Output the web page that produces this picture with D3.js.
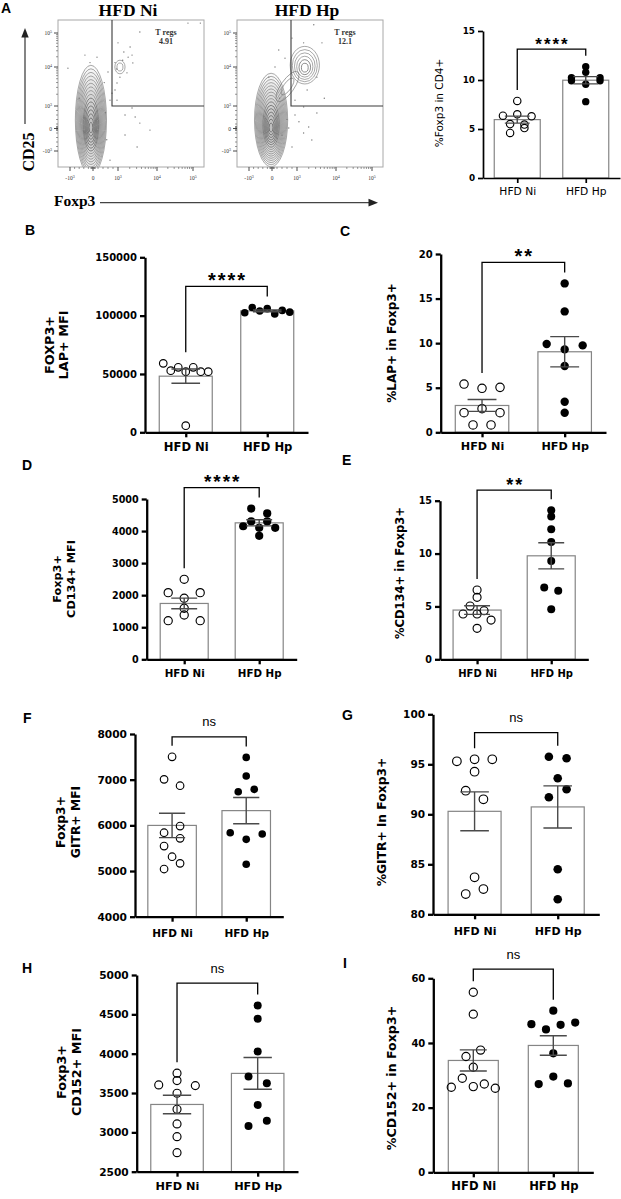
<!DOCTYPE html>
<html><head><meta charset="utf-8">
<script src="https://cdn.jsdelivr.net/npm/d3@7"></script>
<style>body{margin:0;background:#fff}svg{display:block}</style>
</head><body>
<svg id="fig" width="621" height="1199"></svg>
<script>
// ---------------- DATA ----------------
const categories = ["HFD Ni", "HFD Hp"];
const sigLabels = ["****", "****", "**", "****", "**", "ns", "ns", "ns", "ns"];

// Panel A (bar): %Foxp3 in CD4+
const pctFoxp3Ni = [7.86, 6.36, 6.5, 6.3, 5.5, 5.45, 4.6, 5.1];
const pctFoxp3Hp = [11.36, 10.24, 10.78, 10.24, 9.93, 9.56, 9.93, 7.79];
const ticksA = [0, 5, 10, 15];
// Panel B: FOXP3+ LAP+ MFI
const lapMfiNi = [59100, 52800, 55700, 51950, 55700, 51950, 51950, 5700];
const lapMfiHp = [102500, 107000, 104000, 106000, 101500, 104500, 103000];
const ticksB = [0, 50000, 100000, 150000];
// Panel C: %LAP+ in Foxp3+
const lapPctNi = [5.41, 4.93, 5.04, 2.2, 2.65, 2.2, 0.82, 0.82];
const lapPctHp = [9.9, 9.3, 9.75, 16.7, 13.56, 7.43, 3.43, 2.2];
const ticksC = [0, 5, 10, 15, 20];
// Panel D: Foxp3+ CD134+ MFI
const cd134MfiNi = [2495, 2078, 1903, 2078, 1591, 1204, 1382, 1204];
const cd134MfiHp = [4700, 4550, 4300, 4300, 4150, 4100, 4100, 3850];
const ticksD = [0, 1000, 2000, 3000, 4000, 5000];
// Panel E: %CD134+ in Foxp3+
const cd134PctNi = [5.86, 6.55, 5.04, 4.28, 4.28, 4.6, 3.71, 2.93];
const cd134PctHp = [14.1, 13.5, 12.3, 11.1, 9.29, 6.8, 6.48, 4.73];
const ticksE = [0, 5, 10, 15];
// Panel F: Foxp3+ GITR+ MFI
const gitrMfiNi = [7501, 7007, 6867, 5838, 5985, 5547, 5716, 5313, 5044, 5168];
const gitrMfiHp = [7488, 7079, 6735, 6788, 5838, 5694, 5810, 5147];
const ticksF = [4000, 5000, 6000, 7000, 8000];
// Panel G: %GITR+ in Foxp3+
const gitrPctNi = [95.3, 95.5, 95.5, 94.26, 92.36, 91.5, 83.7, 82.03, 82.53];
const gitrPctHp = [95.76, 95.6, 93.6, 91.7, 92.5, 84.5, 81.5];
const ticksG = [80, 85, 90, 95, 100];
// Panel H: Foxp3+ CD152+ MFI
const cd152MfiNi = [3752, 3603, 3658, 3594, 3497, 3294, 3107, 2945, 2742];
const cd152MfiHp = [4612, 4443, 4027, 3709, 3625, 3349, 3081, 3149];
const ticksH = [2500, 3000, 3500, 4000, 4500, 5000];
// Panel I: %CD152+ in Foxp3+
const cd152PctNi = [55.7, 48.9, 35.8, 37.8, 32.5, 26.3, 29.1, 26.5, 27.3, 26.0];
const cd152PctHp = [50, 45.8, 44.2, 45.6, 46.3, 36.8, 27.3, 29.6, 27.5];
const ticksI = [0, 20, 40, 60];

// Flow cytometry (panel A left), axis in display units (-1=-10^3, 0, 1=10^3, 2=10^4, 3=10^5)
const flowTitles = ["HFD Ni", "HFD Hp"];
const tregPct = ["4.91", "12.1"];
const flowTickVals = [-1, 0, 1, 2, 3];
const flowTickBase = ["-10", "0", "10", "10", "10"];
const flowTickExp = ["3", "", "3", "4", "5"];
const gateFoxp3 = 0.76, gateCD25 = 1.0;
const flowPopNi = [[-0.09, 0.02], [1.05, 2.0]];
const flowPopHp = [[-0.04, 0.02], [1.2, 1.97], [0.62, 1.5]];
const flowDotsNi = [[1.0,2.71],[1.15,2.44],[1.31,2.59],[1.26,2.29],[0.88,2.13],[1.36,2.35],[1.38,2.12],[1.23,1.85],[1.05,1.74],[0.96,1.59],[0.88,1.41],[0.76,1.33],[0.68,1.15],[0.96,1.15],[0.6,1.87],[-0.13,2.13],[0.16,2.29],[-0.35,2.35],[-1.09,1.97],[1.36,0.91],[1.44,0.51],[1.18,0.6],[1.56,0.24],[1.49,-0.82],[2.86,3.29],[3.2,3.29],[1.56,3.03],[1.18,-0.29],[0.68,-1.4],[1.82,-0.07],[0.5,0.7],[0.55,-0.5],[0.45,1.6],[-0.6,1.2],[1.12,2.2],[0.95,1.95]];
const flowDotsHp = [[1.17,2.71],[0.8,2.85],[1.43,3.24],[0.27,2.5],[0.52,2.26],[0.12,2.0],[-0.14,1.74],[0.92,1.15],[1.17,0.96],[0.92,0.6],[1.3,0.07],[1.17,-0.2],[1.38,-0.51],[0.67,0.02],[0.8,-0.82],[1.51,0.69],[1.26,1.41],[1.51,1.74],[1.64,2.71],[0.6,0.4],[1.05,0.3],[0.4,-0.3],[1.7,1.2],[0.3,1.2]];

// ---------------- LAYOUT ----------------
const SANS = "'DejaVu Sans', Verdana, sans-serif";
const ARIAL = "'Liberation Sans', Arial, sans-serif";
const SERIF = "'Liberation Serif', 'Times New Roman', serif";
const svg = d3.select("#fig");
svg.append("rect").attr("width", 621).attr("height", 1199).attr("fill", "#fff");

// ---- Flow plots ----
const flowXDom = [-1.52, -1, 0, 1, 2, 3, 3.3], flowXRng = [0, 12, 35, 60, 99, 135, 146];
const flowYDom = [-1.7, -1, 0, 1, 2, 3, 3.38], flowYRng = [167, 151, 128.5, 106, 67, 33, 20];
const flowMinor = [].concat(
  d3.range(2, 10).map(k => 1 + Math.log10(k)),
  d3.range(2, 10).map(k => 2 + Math.log10(k)),
  [-0.8, -0.6, -0.4, -0.2, 0.2, 0.4, 0.6, 0.8, -0.09, -0.06, -0.03, 0.03, 0.06, 0.09]);
const shapesNi = [{rx: 15, ry: 54, n: 16, up: 8}, {rx: 4.5, ry: 6, n: 2, up: 0}];
const shapesHp = [{rx: 16, ry: 46, n: 16, up: 8}, {rx: 14, ry: 18, n: 6, up: 3}, {rx: 6, ry: 17, n: 2, up: 0, rot: 35}];

function drawFlow(idx, left, pops, shapes, dots) {
  const g = svg.append("g").attr("transform", `translate(${left},0)`);
  const x = d3.scaleLinear().domain(flowXDom).range(flowXRng);
  const y = d3.scaleLinear().domain(flowYDom).range(flowYRng);
  const cid = "fclip" + idx;
  g.append("clipPath").attr("id", cid).append("rect").attr("x", 0).attr("y", 20).attr("width", 146).attr("height", 147);
  const inner = g.append("g").attr("clip-path", `url(#${cid})`);
  inner.selectAll("circle").data(dots).join("circle")
    .attr("cx", d => x(d[0])).attr("cy", d => y(d[1])).attr("r", 0.7).attr("fill", "#777");
  pops.forEach((p, k) => {
    const s = shapes[k], cx = x(p[0]), cy = y(p[1]);
    for (let j = 0; j < s.n; j++) {
      const t = j / s.n, f = Math.pow(1 - t, 0.9);
      const ey = cy - s.up * (1 - t);
      inner.append("ellipse").attr("cx", cx).attr("cy", ey)
        .attr("rx", s.rx * f + 0.6).attr("ry", s.ry * f + 0.8)
        .attr("transform", s.rot ? `rotate(${s.rot},${cx},${ey})` : null)
        .attr("fill", s.n > 10 ? "#808080" : "none").attr("fill-opacity", 0.045)
        .attr("stroke", t > 0.5 ? "#505050" : "#7a7a7a").attr("stroke-width", 0.65);
    }
  });
  g.append("rect").attr("x", 0).attr("y", 20).attr("width", 146).attr("height", 147)
    .attr("fill", "none").attr("stroke", "#a8a8a8").attr("stroke-width", 1);
  g.append("path").attr("d", `M${x(gateFoxp3)},20V${y(gateCD25)}H146`)
    .attr("fill", "none").attr("stroke", "#3a3a3a").attr("stroke-width", 1.1);
  // ticks
  flowMinor.forEach(v => {
    g.append("line").attr("x1", -2).attr("x2", 0).attr("y1", y(v)).attr("y2", y(v)).attr("stroke", "#555").attr("stroke-width", 0.6);
    g.append("line").attr("x1", x(v)).attr("x2", x(v)).attr("y1", 167).attr("y2", 169).attr("stroke", "#555").attr("stroke-width", 0.6);
  });
  flowTickVals.forEach((v, k) => {
    g.append("line").attr("x1", -4).attr("x2", 0).attr("y1", y(v)).attr("y2", y(v)).attr("stroke", "#333").attr("stroke-width", 0.9);
    g.append("line").attr("x1", x(v)).attr("x2", x(v)).attr("y1", 167).attr("y2", 171).attr("stroke", "#333").attr("stroke-width", 0.9);
    const ty = g.append("text").attr("x", -6).attr("y", y(v) + 2).attr("text-anchor", "end")
      .attr("font-family", SERIF).attr("font-size", 5.5).attr("fill", "#333");
    ty.append("tspan").text(flowTickBase[k]);
    if (flowTickExp[k]) ty.append("tspan").attr("dy", -2.5).attr("font-size", 4).text(flowTickExp[k]);
    const tx = g.append("text").attr("x", x(v)).attr("y", 180).attr("text-anchor", "middle")
      .attr("font-family", SERIF).attr("font-size", 5.5).attr("fill", "#333");
    tx.append("tspan").text(flowTickBase[k]);
    if (flowTickExp[k]) tx.append("tspan").attr("dy", -2.5).attr("font-size", 4).text(flowTickExp[k]);
  });
  g.append("text").attr("x", x(2.25)).attr("y", 35).attr("text-anchor", "middle")
    .attr("font-family", SERIF).attr("font-weight", "bold").attr("font-size", 8).attr("fill", "#333").text("T regs");
  g.append("text").attr("x", x(2.25)).attr("y", 44).attr("text-anchor", "middle")
    .attr("font-family", SERIF).attr("font-weight", "bold").attr("font-size", 8).attr("fill", "#333").text(tregPct[idx]);
  g.append("text").attr("x", 70).attr("y", 16).attr("text-anchor", "middle")
    .attr("font-family", SERIF).attr("font-weight", "bold").attr("font-size", 17.5).text(flowTitles[idx]);
}
drawFlow(0, 58, flowPopNi, shapesNi, flowDotsNi);
drawFlow(1, 237, flowPopHp, shapesHp, flowDotsHp);

// axis names & arrows for flow plots
svg.append("text").attr("x", 1).attr("y", 13).attr("font-family", ARIAL).attr("font-weight", "bold").attr("font-size", 14).text("A");
svg.append("line").attr("x1", 25).attr("x2", 25).attr("y1", 124).attr("y2", 36).attr("stroke", "#333").attr("stroke-width", 1.2);
svg.append("path").attr("d", "M25,28L21.3,37.5H28.7Z").attr("fill", "#222");
svg.append("text").attr("transform", "translate(34,152) rotate(-90)").attr("text-anchor", "middle")
  .attr("font-family", SERIF).attr("font-weight", "bold").attr("font-size", 16).text("CD25");
svg.append("text").attr("x", 54).attr("y", 206).attr("font-family", SERIF).attr("font-weight", "bold").attr("font-size", 15.5).text("Foxp3");
svg.append("line").attr("x1", 100).attr("x2", 370).attr("y1", 202.7).attr("y2", 202.7).attr("stroke", "#444").attr("stroke-width", 1.2);
svg.append("path").attr("d", "M378,202.7L368.5,198.8V206.6Z").attr("fill", "#222");

// ---- Bar + scatter panels ----
function swarm(values, y, rowH, maxS, maxW) {
  const idx = values.map((v, i) => i).sort((a, b) => values[a] - values[b] || a - b);
  const off = new Array(values.length).fill(0);
  let i = 0;
  while (i < idx.length) {
    const y0 = y(values[idx[i]]);
    let j = i + 1;
    while (j < idx.length && Math.abs(y0 - y(values[idx[j]])) < rowH) j++;
    const row = idx.slice(i, j).sort((a, b) => a - b);
    const n = row.length;
    const s = n > 1 ? Math.min(maxS, maxW / (n - 1)) : 0;
    row.forEach((k, r) => off[k] = (r - (n - 1) / 2) * s);
    i = j;
  }
  return off;
}

function barPanel(c) {
  const g = svg.append("g");
  const y = d3.scaleLinear().domain([c.ticks[0], c.ticks[c.ticks.length - 1]]).range([c.y0, c.y1]);
  const x = d3.scalePoint().domain(categories).range([c.ax, c.axEnd]).padding(0.5);
  const groups = [c.ni, c.hp];
  const stats = groups.map(v => ({m: d3.mean(v), se: d3.deviation(v) / Math.sqrt(v.length), max: d3.max(v)}));
  g.selectAll("rect").data(categories).join("rect")
    .attr("x", d => x(d) - c.bw / 2).attr("width", c.bw)
    .attr("y", (d, i) => y(stats[i].m)).attr("height", (d, i) => c.y0 - y(stats[i].m))
    .attr("fill", "#fff").attr("stroke", "#858585").attr("stroke-width", 1.2);
  groups.forEach((vals, i) => {
    const off = swarm(vals, y, c.rowH, c.maxS, c.maxW);
    g.append("g").selectAll("circle").data(vals).join("circle")
      .attr("cx", (d, j) => x(categories[i]) + off[j]).attr("cy", d => y(d)).attr("r", c.r)
      .attr("fill", i ? "#000" : "none").attr("stroke", "#000").attr("stroke-width", i ? 0 : 1.15);
  });
  stats.forEach((s, i) => {
    const cx = x(categories[i]), cw = c.bw * 0.27, yt = y(s.m + s.se), yb = y(s.m - s.se);
    g.append("path").attr("d", `M${cx},${yt}V${yb}M${cx - cw},${yt}H${cx + cw}M${cx - cw},${yb}H${cx + cw}`)
      .attr("fill", "none").attr("stroke", "#4a4a4a").attr("stroke-width", 1.4);
  });
  // axes
  const ya = g.append("g").attr("transform", `translate(${c.ax},0)`)
    .call(d3.axisLeft(y).tickValues(c.ticks).tickSize(5).tickSizeOuter(0).tickPadding(3).tickFormat(d3.format("d")));
  ya.attr("font-family", SANS).attr("font-size", c.tfs).attr("font-weight", "bold");
  ya.selectAll("path,line").attr("stroke", "#000").attr("stroke-width", c.aw);
  ya.selectAll("text").attr("fill", "#000");
  const xa = g.append("g").attr("transform", `translate(0,${c.y0})`)
    .call(d3.axisBottom(x).tickSize(5).tickSizeOuter(0));
  xa.attr("font-family", SANS).attr("font-size", c.cfs).attr("font-weight", c.cw);
  xa.selectAll("path,line").attr("stroke", "#000").attr("stroke-width", c.aw);
  xa.selectAll("text").attr("dy", null).attr("y", c.catDy).attr("fill", "#000");
  // y label
  c.ylabel.forEach((t, i) => {
    g.append("text").attr("transform", `translate(${c.ylx[i]},${c.yly}) rotate(-90)`)
      .attr("text-anchor", "middle").attr("dy", "0.36em")
      .attr("font-family", SANS).attr("font-weight", c.lw).attr("font-size", c.lfs).text(t);
  });
  // significance bracket
  const xl = x(categories[0]), xr = x(categories[1]);
  const yTop = Math.min(y(stats[0].max), y(stats[1].max)) - c.bGap;
  g.append("path").attr("d", `M${xl},${y(stats[0].max) - 11}V${yTop}H${xr}V${y(stats[1].max) - 11}`)
    .attr("fill", "none").attr("stroke", "#000").attr("stroke-width", 1.3);
  const ns = c.sig === "ns";
  g.append("text").attr("x", (xl + xr) / 2 + (ns ? 0 : 1)).attr("y", ns ? yTop - 10.5 : yTop + 0.5)
    .attr("text-anchor", "middle").attr("font-family", ARIAL)
    .attr("font-weight", ns ? "normal" : "bold").attr("font-size", ns ? 13 : c.sfs)
    .attr("letter-spacing", ns ? 0 : 2).text(c.sig);
  if (c.letter) g.append("text").attr("x", c.lx).attr("y", c.ly).attr("font-family", ARIAL)
    .attr("font-weight", "bold").attr("font-size", 14).text(c.letter);
}

const panels = [
  {letter: null, ni: pctFoxp3Ni, hp: pctFoxp3Hp, ticks: ticksA, ax: 483, axEnd: 620, y0: 178, y1: 31, bw: 46, r: 3.7,
   rowH: 6, maxS: 14.3, maxW: 39, ylabel: ["%Foxp3 in CD4+"], ylx: [439], yly: 103, lfs: 10.5, lw: "normal",
   tfs: 8.8, cfs: 10.7, cw: "normal", catDy: 17, sfs: 17, bGap: 17.5, aw: 1.7},
  {letter: "B", lx: 25, ly: 235, ni: lapMfiNi, hp: lapMfiHp, ticks: ticksB, ax: 145, axEnd: 308, y0: 432.3, y1: 257.3, bw: 53, r: 3.8,
   rowH: 10, maxS: 7.5, maxW: 45, ylabel: ["FOXP3+", "LAP+ MFI"], ylx: [49, 63], yly: 345, lfs: 12.8, lw: "bold",
   tfs: 10, cfs: 11.6, cw: "bold", catDy: 19, sfs: 20, bGap: 21, aw: 2.3},
  {letter: "C", lx: 340, ly: 236, ni: lapPctNi, hp: lapPctHp, ticks: ticksC, ax: 440.7, axEnd: 606, y0: 432.3, y1: 254, bw: 53.5, r: 4.2,
   rowH: 7, maxS: 18, maxW: 40, ylabel: ["%LAP+ in Foxp3+"], ylx: [392], yly: 343, lfs: 12, lw: "bold",
   tfs: 10, cfs: 11.2, cw: "bold", catDy: 17.5, sfs: 20, bGap: 21, aw: 2.3},
  {letter: "D", lx: 22, ly: 470, ni: cd134MfiNi, hp: cd134MfiHp, ticks: ticksD, ax: 146.7, axEnd: 296.7, y0: 659.3, y1: 499, bw: 48, r: 4.1,
   rowH: 6, maxS: 16, maxW: 40, ylabel: ["Foxp3+", "CD134+ MFI"], ylx: [57, 71], yly: 579, lfs: 11.3, lw: "bold",
   tfs: 9.6, cfs: 10.3, cw: "bold", catDy: 18, sfs: 19, bGap: 21, aw: 2.3},
  {letter: "E", lx: 342, ly: 465, ni: cd134PctNi, hp: cd134PctHp, ticks: ticksE, ax: 440, axEnd: 588.3, y0: 659.3, y1: 500.7, bw: 48, r: 4,
   rowH: 6.2, maxS: 14, maxW: 42, ylabel: ["%CD134+ in Foxp3+"], ylx: [400], yly: 573, lfs: 11.5, lw: "bold",
   tfs: 9.6, cfs: 10, cw: "bold", catDy: 18, sfs: 18, bGap: 20, aw: 2.3},
  {letter: "F", lx: 23, ly: 723, ni: gitrMfiNi, hp: gitrMfiHp, ticks: ticksF, ax: 135, axEnd: 283.3, y0: 916.7, y1: 734, bw: 48.5, r: 3.8,
   rowH: 8, maxS: 16, maxW: 40, ylabel: ["Foxp3+", "GITR+ MFI"], ylx: [61, 76], yly: 822, lfs: 12.3, lw: "bold",
   tfs: 10.6, cfs: 10.5, cw: "bold", catDy: 20, sfs: 18, bGap: 20, aw: 2.3},
  {letter: "G", lx: 342, ly: 720, ni: gitrPctNi, hp: gitrPctHp, ticks: ticksG, ax: 433, axEnd: 599.3, y0: 914.3, y1: 714.3, bw: 53, r: 4.3,
   rowH: 9, maxS: 17.7, maxW: 40, ylabel: ["%GITR+ in Foxp3+"], ylx: [381.7], yly: 822, lfs: 12.3, lw: "bold",
   tfs: 10.5, cfs: 11, cw: "bold", catDy: 21, sfs: 18, bGap: 24, aw: 2.3},
  {letter: "H", lx: 22, ly: 973, ni: cd152MfiNi, hp: cd152MfiHp, ticks: ticksH, ax: 136.7, axEnd: 298, y0: 1171.7, y1: 975, bw: 52.5, r: 4,
   rowH: 7, maxS: 18.3, maxW: 40, ylabel: ["Foxp3+", "CD152+ MFI"], ylx: [61, 76], yly: 1072, lfs: 12.8, lw: "bold",
   tfs: 10.6, cfs: 11.3, cw: "bold", catDy: 18.5, sfs: 18, bGap: 22.4, aw: 2.3},
  {letter: "I", lx: 343, ly: 968, ni: cd152PctNi, hp: cd152PctHp, ticks: ticksI, ax: 433.3, axEnd: 593.3, y0: 1172.3, y1: 978.3, bw: 50, r: 4.1,
   rowH: 10.5, maxS: 14.6, maxW: 44, ylabel: ["%CD152+ in Foxp3+"], ylx: [391.7], yly: 1078, lfs: 12.6, lw: "bold",
   tfs: 10, cfs: 11.6, cw: "bold", catDy: 18, sfs: 18, bGap: 23, aw: 2.3}
];
panels.forEach((p, i) => { p.sig = sigLabels[i]; barPanel(p); });
</script>
</body></html>
